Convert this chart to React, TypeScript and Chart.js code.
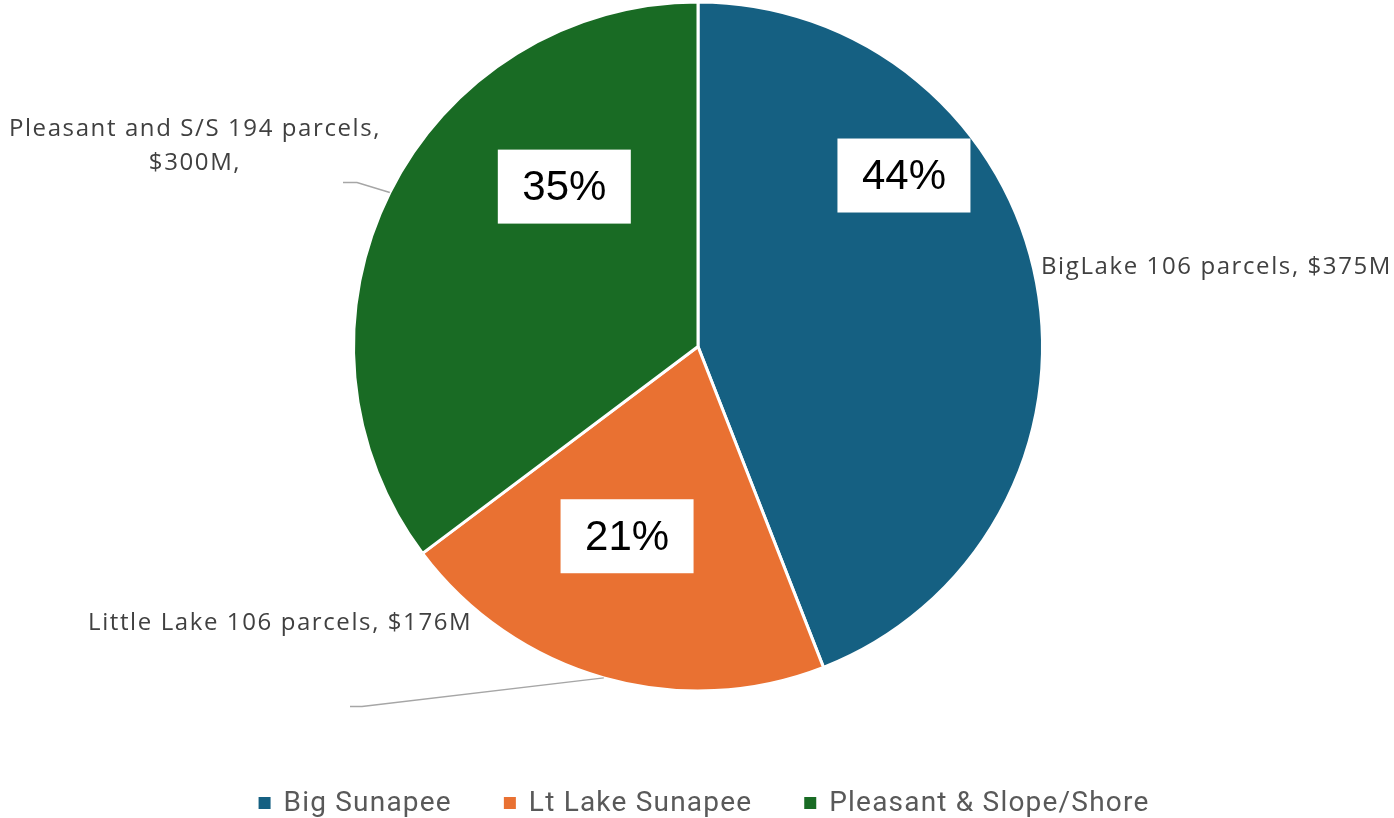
import React, { useEffect, useRef } from "react";
import { Chart, registerables } from "chart.js";

Chart.register(...registerables);

const categories = ["Big Sunapee", "Lt Lake Sunapee", "Pleasant & Slope/Shore"];
const values = [375, 176, 300];
const outerLabels = [
  ["BigLake 106 parcels, $375M"],
  ["Little Lake 106 parcels, $176M"],
  ["Pleasant and S/S 194 parcels,", "$300M,"],
];
const colors = ["#156082", "#E97132", "#196B24"];

const W = 1394;
const H = 818;

const labelPlugin = {
  id: "pieLabels",
  afterDatasetsDraw(chart: any) {
    const ctx = chart.ctx as any;
    const meta = chart.getDatasetMeta(0);
    const a0 = meta.data[0];
    const cx = a0.x;
    const cy = a0.y;
    const r = a0.outerRadius;
    const total = values.reduce((s, v) => s + v, 0);

    // percentage boxes (polar position: degrees clockwise from top, fraction of radius)
    const boxPolar = [
      [50.3, 0.777],
      [200.5, 0.588],
      [320.1, 0.605],
    ];
    ctx.save();
    values.forEach((v, i) => {
      const ang = (boxPolar[i][0] * Math.PI) / 180;
      const d = boxPolar[i][1] * r;
      const x = cx + Math.sin(ang) * d;
      const y = cy - Math.cos(ang) * d;
      const bw = 133;
      const bh = 74;
      ctx.fillStyle = "#ffffff";
      ctx.fillRect(x - bw / 2, y - bh / 2, bw, bh);
      ctx.fillStyle = "#000000";
      ctx.font = '42px "Liberation Sans", Arial, sans-serif';
      ctx.textAlign = "center";
      ctx.textBaseline = "middle";
      ctx.fillText(Math.round((v / total) * 100) + "%", x, y + 2);
    });

    // leader lines to the middle of the slice edge
    const edge = (i: number) => {
      const arc = meta.data[i];
      const a = (arc.startAngle + arc.endAngle) / 2;
      return [cx + Math.cos(a) * r, cy + Math.sin(a) * r];
    };
    ctx.strokeStyle = "#a6a6a6";
    ctx.lineWidth = 1.5;
    {
      const [ex, ey] = edge(1);
      ctx.beginPath();
      ctx.moveTo(cx - 348, cy + 360);
      ctx.lineTo(cx - 336, cy + 360);
      ctx.lineTo(ex, ey);
      ctx.stroke();
    }
    {
      const [ex, ey] = edge(2);
      ctx.beginPath();
      ctx.moveTo(cx - 355, cy - 164);
      ctx.lineTo(cx - 341, cy - 164);
      ctx.lineTo(ex, ey);
      ctx.stroke();
    }

    // outer labels
    ctx.fillStyle = "#404040";
    ctx.font = '24px "Open Sans", "Noto Sans", sans-serif';
    ctx.letterSpacing = "1.6px";
    ctx.textBaseline = "middle";
    ctx.textAlign = "left";
    ctx.fillText(outerLabels[0][0], cx + 343, cy - 79);
    ctx.fillText(outerLabels[1][0], cx - 610, cy + 277);
    ctx.textAlign = "center";
    ctx.fillText(outerLabels[2][0], cx - 503, cy - 217);
    ctx.fillText(outerLabels[2][1], cx - 503, cy - 183);

    // legend
    ctx.font = '28px "Roboto", sans-serif';
    ctx.letterSpacing = "1.2px";
    ctx.textAlign = "left";
    ctx.textBaseline = "middle";
    const box = 12;
    const gapText = 13;
    const gapItem = 52;
    const widths = categories.map((c) => ctx.measureText(c).width);
    const totalW = widths.reduce((s, w) => s + box + gapText + w, 0) + gapItem * (categories.length - 1);
    let x = chart.width / 2 + 7 - totalW / 2;
    const ly = 803;
    categories.forEach((c, i) => {
      ctx.fillStyle = colors[i];
      ctx.fillRect(x, ly - box / 2, box, box);
      x += box + gapText;
      ctx.fillStyle = "#595959";
      ctx.fillText(c, x, ly + 1);
      x += widths[i] + gapItem;
    });
    ctx.restore();
  },
};

export default function App() {
  const ref = useRef<HTMLCanvasElement>(null);
  useEffect(() => {
    if (!ref.current) return;
    const chart = new Chart(ref.current, {
      type: "pie",
      data: {
        labels: categories,
        datasets: [
          {
            data: values,
            backgroundColor: colors,
            borderColor: "#ffffff",
            borderWidth: 3,
          },
        ],
      },
      options: {
        responsive: false,
        animation: false,
        layout: { padding: { left: 352, right: 350, top: 0, bottom: 125 } },
        plugins: {
          legend: { display: false },
          tooltip: { enabled: false },
        },
      },
      plugins: [labelPlugin],
    });
    return () => chart.destroy();
  }, []);
  return (
    <div style={{ position: "absolute", left: 0, top: 0, width: W, height: H, background: "#fff" }}>
      <canvas ref={ref} width={W} height={H} style={{ width: W, height: H, display: "block" }} />
    </div>
  );
}
